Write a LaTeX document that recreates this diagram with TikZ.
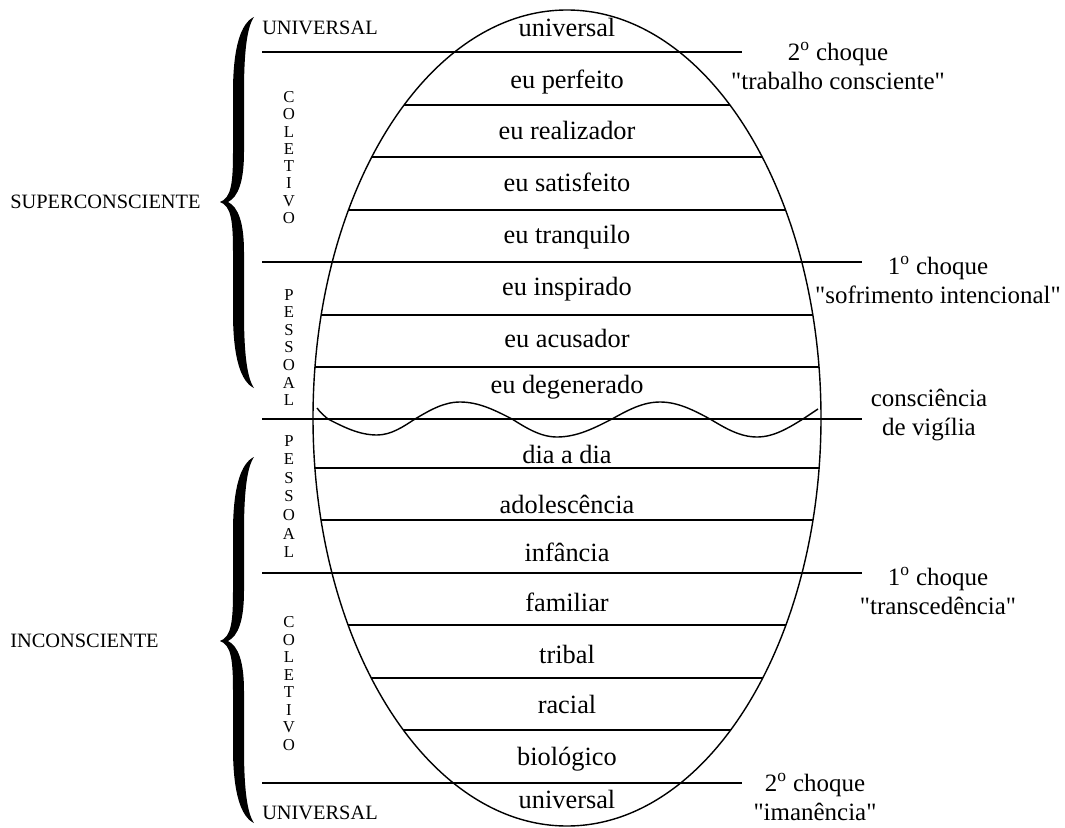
\documentclass[tikz,border=0pt]{standalone}
\usepackage{fontspec}
\setmainfont{Liberation Serif}[Ligatures=TeXOff]
\usetikzlibrary{positioning}

% curly brace drawn as a filled shape: top end, tip, bottom end (pixel y)
\newcommand{\chave}[3]{%
  \fill (254,#1) .. controls (241,#1+6) and (233,#1+30) .. (233,#1+75)
    -- (233,#2-50) .. controls (233,#2-18) and (231,#2-4) .. (220,#2)
    .. controls (231,#2+4) and (233,#2+18) .. (233,#2+50)
    -- (233,#3-75) .. controls (233,#3-30) and (241,#3-6) .. (254,#3)
    .. controls (247,#3-10) and (244,#3-35) .. (244,#3-75)
    -- (244,#2+50) .. controls (244,#2+20) and (238,#2+5) .. (228,#2)
    .. controls (238,#2-5) and (244,#2-20) .. (244,#2-50)
    -- (244,#1+75) .. controls (244,#1+35) and (247,#1+10) .. (254,#1) -- cycle;}

\tikzset{
  linha/.style={line width=0.8pt},
  nivel/.style={font=\fontsize{15}{17}\selectfont, text height=1.6ex, text depth=0.4ex, inner sep=0pt},
  rotulo/.style={font=\fontsize{11.6}{13}\selectfont, inner sep=0pt},
  letra/.style={font=\fontsize{9.5}{10}\selectfont, inner sep=0pt},
  choque/.style={font=\fontsize{14.2}{16.5}\selectfont, align=center, inner sep=0pt}
}

\begin{document}
\begin{tikzpicture}[x=0.02cm, y=-0.02cm]
\useasboundingbox (0,0) rectangle (1065,828);

% the egg
\draw[linha] (567,418) ellipse [x radius=254, y radius=408];

% inner levels
\begin{scope}
  \clip (567,418) ellipse [x radius=254, y radius=408];
  \foreach \y in {105,157,210,315,367,468,520,625,678,730}
    \draw[linha] (300,\y) -- (840,\y);
\end{scope}

% shock lines
\foreach \y/\xe in {52/742, 262/862, 419/862, 573/862, 783/742}
  \draw[linha] (262,\y) -- (\xe,\y);

% waking consciousness
\draw[linha] (317,408) .. controls (321,413) .. (328,419)
  sin (377,435) cos (415,419) sin (460,402) cos (512,419)
  sin (557,437) cos (612,419) sin (660,402) cos (710,419)
  sin (757,437) cos (803,419) .. controls (810,414) .. (818,409);

\foreach \y/\txt [count=\i] in {28/universal, 80/eu perfeito, 131/eu realizador,
    183/eu satisfeito, 235/eu tranquilo, 287/eu inspirado, 339/eu acusador,
    385/eu degenerado, 455/dia a dia, 505/adolescência, 553/infância,
    603/familiar, 655/tribal, 705/racial, 757/biológico, 800/universal}
  \node[nivel] (nivel\i) at (567,\y+4) {\txt};

% left side
\node[rotulo] (univsup) at (320,28) {UNIVERSAL};
\node[rotulo] (univinf) at (320,813) {UNIVERSAL};
\foreach \c [count=\i] in {C,O,L,E,T,I,V,O} {
  \node[letra] (colsup\i) at (289,97+17.3*\i-17.3) {\c};
  \node[letra] (colinf\i) at (289,622+17.6*\i-17.6) {\c};
}
\foreach \c [count=\i] in {P,E,S,S,O,A,L} {
  \node[letra] (pessup\i) at (289,295+17.5*\i-17.5) {\c};
  \node[letra] (pesinf\i) at (289,441+18.5*\i-18.5) {\c};
}

\chave{17}{202}{388}
\chave{457}{641}{823}
\node[rotulo, anchor=west] (super) at (10,202) {SUPERCONSCIENTE};
\node[rotulo, anchor=west] (incon) at (10,641) {INCONSCIENTE};

% right side
\node[choque] (choque2s) at (838,66) {2\textsuperscript{o} choque\\"trabalho consciente"};
\node[choque] (choque1s) at (938,280) {1\textsuperscript{o} choque\\"sofrimento intencional"};
\node[choque] (vigilia) at (929,415) {consciência\\de vigília};
\node[choque] (choque1i) at (938,591) {1\textsuperscript{o} choque\\"transcedência"};
\node[choque] (choque2i) at (815,797) {2\textsuperscript{o} choque\\"imanência"};
\end{tikzpicture}
\end{document}
